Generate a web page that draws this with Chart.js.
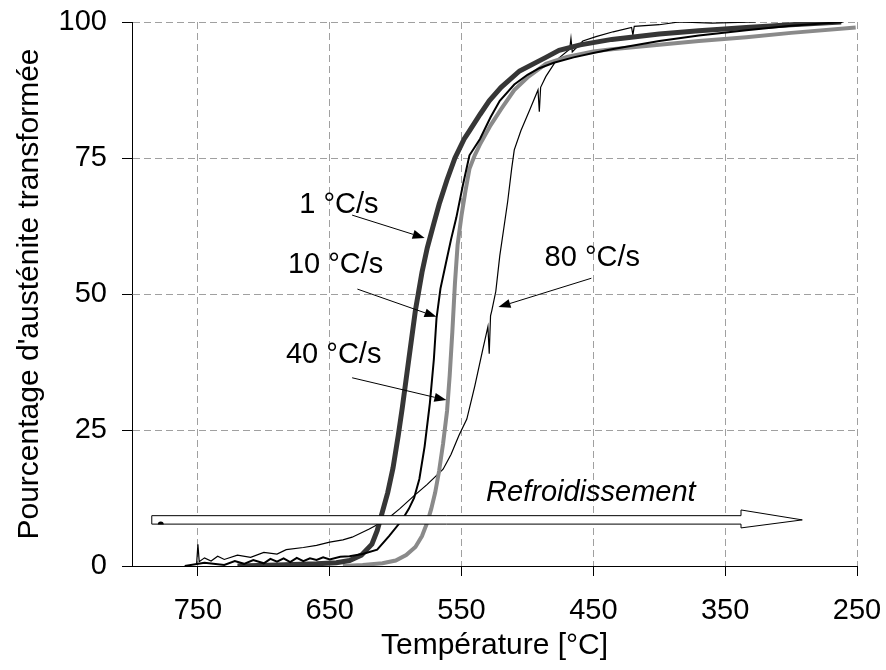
<!DOCTYPE html>
<html>
<head>
<meta charset="utf-8">
<script src="https://cdn.jsdelivr.net/npm/chart.js@4.4.0/dist/chart.umd.min.js"></script>
<style>
  body { margin: 0; background: #fff; overflow: hidden; }
  #wrap { width: 886px; height: 670px; }
</style>
</head>
<body>
<div id="wrap"><canvas id="chart"></canvas></div>
<script>
// temperature (°C) / transformed fraction (%)
const t1  = [720, 690, 660, 645, 635, 626, 618, 614, 610, 606, 602, 598, 595, 590, 585, 580, 576, 571, 567, 561, 555, 548, 544, 536, 529, 520, 506, 486, 476, 460, 436, 400, 370, 334, 300, 262];
const p1  = [0, 0.2, 0.4, 0.6, 1, 2, 4, 6.5, 10, 13.5, 18, 24, 29, 38, 47, 54, 58.5, 63, 66.5, 71, 75, 78.5, 80, 83, 85.5, 88, 91, 93.5, 94.8, 95.8, 96.8, 97.8, 98.4, 99, 99.5, 100];

const t10 = [760, 745, 730, 722, 715, 708, 700, 695, 690, 685, 680, 675, 670, 665, 660, 655, 650, 642, 635, 625, 614, 605, 595, 590, 586, 582, 578, 574, 571, 569, 566, 562, 558, 554, 549, 544, 536, 528, 521, 510, 500, 491, 480, 465, 450, 436, 400, 370, 334, 300, 261];
const p10 = [0, 0.6, 0.2, 0.9, 0.4, 1.1, 0.5, 1.3, 0.8, 1.4, 0.7, 1.5, 0.9, 1.4, 1.1, 1.6, 1.2, 1.7, 1.8, 2.2, 3, 5.5, 8.5, 10.5, 12.5, 16, 22, 30, 38, 45.5, 51, 55.5, 60, 64, 70, 75.5, 78.5, 82.5, 85.5, 88.5, 90.3, 91.5, 92.5, 93.5, 94.3, 95, 96.5, 97.5, 98.5, 99.3, 100];

const t40 = [640, 625, 610, 600, 592, 585, 580, 576, 573, 570, 567, 564, 561, 559, 557, 555, 553, 550, 547, 544, 540, 536, 528, 520, 510, 500, 486, 470, 450, 436, 400, 370, 334, 300, 251];
const p40 = [0, 0.2, 0.5, 1, 2, 3.5, 5.5, 8, 10.5, 13.5, 17.5, 22.5, 28.5, 35, 43, 52, 59, 64.5, 69, 73, 75.5, 77.5, 81, 84, 87.5, 89.8, 92.3, 93.6, 94.6, 95, 95.8, 96.5, 97.2, 98, 99];

const t80 = [751, 750, 749, 745, 740, 735, 730, 720, 710, 700, 690, 683, 670, 660, 650, 640, 633, 620, 607, 597, 587, 576, 564, 558, 552, 546, 540, 534, 530, 529, 528, 527, 524, 521, 518, 515, 512, 510, 505, 498, 492, 491, 490, 486, 478, 468, 467, 466, 458, 448, 435, 421, 420, 419, 400, 385, 360, 327];
const p80 = [0.3, 4, 0.8, 1.5, 0.9, 1.8, 1.2, 2, 1.6, 2.5, 2.2, 3, 3.4, 3.8, 4.4, 4.8, 5.3, 6.8, 8.5, 10.5, 12.7, 15, 17.8, 20.5, 24, 27, 33, 39.7, 44, 39, 46, 47, 50.5, 57, 62, 67, 73, 76.5, 80, 84, 87.5, 83.5, 88, 90, 93, 95, 97, 94.5, 96.5, 97.3, 98.2, 99, 97.6, 99.2, 99.5, 100, 99.8, 100];

const xTicks = [750, 650, 550, 450, 350, 250];
const seriesNames = ['10 °C/s', '1 °C/s', '40 °C/s', '80 °C/s'];

// annotation labels: [text, T, %]
const labels = [['1 °C/s', 643, 66.4], ['10 °C/s', 645.5, 55.3], ['40 °C/s', 647, 38.8], ['80 °C/s', 450.8, 56.6]];
// arrows: [T from, % from, T to, % to]
const arrows = [[633, 64.5, 578, 60.3], [629, 50.9, 569, 45.8], [633, 34.6, 561.5, 30.5], [451.5, 52.9, 522, 47.6]];

const pts = (t, p) => t.map((v, i) => ({x: v, y: p[i]}));
const FAM = '"Liberation Sans", Arial, sans-serif';

const annot = {
  id: 'annot',
  afterDatasetsDraw(chart) {
    const ctx = chart.ctx, xs = chart.scales.x, ys = chart.scales.y;
    const X = v => xs.getPixelForValue(v), Y = v => ys.getPixelForValue(v);
    ctx.save();
    ctx.fillStyle = '#000';
    ctx.strokeStyle = '#000';
    ctx.font = '29px ' + FAM;
    ctx.textAlign = 'center';
    ctx.textBaseline = 'middle';
    labels.forEach(l => ctx.fillText(l[0], X(l[1]), Y(l[2])));
    ctx.lineWidth = 1;
    arrows.forEach(a => {
      const x1 = X(a[0]), y1 = Y(a[1]), x2 = X(a[2]), y2 = Y(a[3]);
      const ang = Math.atan2(y2 - y1, x2 - x1);
      const hl = 12, hw = 4.5;
      ctx.beginPath();
      ctx.moveTo(x1, y1);
      ctx.lineTo(x2 - hl * Math.cos(ang), y2 - hl * Math.sin(ang));
      ctx.stroke();
      ctx.beginPath();
      ctx.moveTo(x2, y2);
      ctx.lineTo(x2 - hl * Math.cos(ang) + hw * Math.sin(ang), y2 - hl * Math.sin(ang) - hw * Math.cos(ang));
      ctx.lineTo(x2 - hl * Math.cos(ang) - hw * Math.sin(ang), y2 - hl * Math.sin(ang) + hw * Math.cos(ang));
      ctx.closePath();
      ctx.fill();
    });
    // hollow "Refroidissement" arrow
    const xl = X(785), xh = X(338), xt = X(291.5);
    const yb1 = Y(9.25), yb2 = Y(7.7), yh1 = Y(10.3), yh2 = Y(7.0), ym = (yb1 + yb2) / 2;
    ctx.beginPath();
    ctx.moveTo(xl, yb1);
    ctx.lineTo(xh, yb1);
    ctx.lineTo(xh, yh1);
    ctx.lineTo(xt, ym);
    ctx.lineTo(xh, yh2);
    ctx.lineTo(xh, yb2);
    ctx.lineTo(xl, yb2);
    ctx.closePath();
    ctx.fillStyle = '#fff';
    ctx.fill();
    ctx.stroke();
    ctx.beginPath();
    ctx.arc(xl + 9, yb2 + 0.5, 3, Math.PI, 2 * Math.PI);
    ctx.fillStyle = '#000';
    ctx.fill();
    ctx.font = 'italic 29px ' + FAM;
    ctx.fillText('Refroidissement', X(451.9), Y(13.4));
    ctx.restore();
  }
};

const tickFont = {family: FAM, size: 29};
const titleFont = {family: FAM, size: 30};

new Chart(document.getElementById('chart'), {
  type: 'line',
  data: {
    datasets: [
      {label: seriesNames[0], data: pts(t10, p10), borderColor: '#000', borderWidth: 2},
      {label: seriesNames[1], data: pts(t1, p1), borderColor: '#363636', borderWidth: 5},
      {label: seriesNames[2], data: pts(t40, p40), borderColor: '#8a8a8a', borderWidth: 4},
      {label: seriesNames[3], data: pts(t80, p80), borderColor: '#000', borderWidth: 1.2}
    ]
  },
  options: {
    responsive: true,
    maintainAspectRatio: false,
    animation: false,
    layout: {padding: {left: 0, right: 29, top: 22, bottom: 0}},
    elements: {point: {radius: 0}, line: {tension: 0, fill: false}},
    plugins: {legend: {display: false}, tooltip: {enabled: false}},
    scales: {
      x: {
        type: 'linear',
        min: 250, max: 800,
        reverse: true,
        afterBuildTicks: s => { s.ticks = xTicks.map(v => ({value: v})); },
        afterFit: s => { s.height = 104; s.paddingLeft = 0; s.paddingRight = 0; },
        grid: {color: '#a0a0a0', tickColor: '#000', tickLength: 10},
        border: {color: '#000', width: 1, dash: [7, 4]},
        ticks: {color: '#000', font: tickFont, padding: 18, maxRotation: 0},
        title: {display: true, text: 'Température [°C]', color: '#000', font: titleFont, padding: {top: 0, bottom: 6}}
      },
      y: {
        min: 0, max: 100,
        afterFit: s => { s.width = 132; s.paddingTop = 0; s.paddingBottom = 0; },
        grid: {color: '#a0a0a0', tickColor: '#000', tickLength: 10},
        border: {color: '#000', width: 1, dash: [7, 4]},
        ticks: {stepSize: 25, color: '#000', font: tickFont, padding: 15},
        title: {display: true, text: "Pourcentage d'austénite transformée", color: '#000', font: titleFont, padding: {top: 12, bottom: 0}}
      }
    }
  },
  plugins: [annot]
});
</script>
</body>
</html>
